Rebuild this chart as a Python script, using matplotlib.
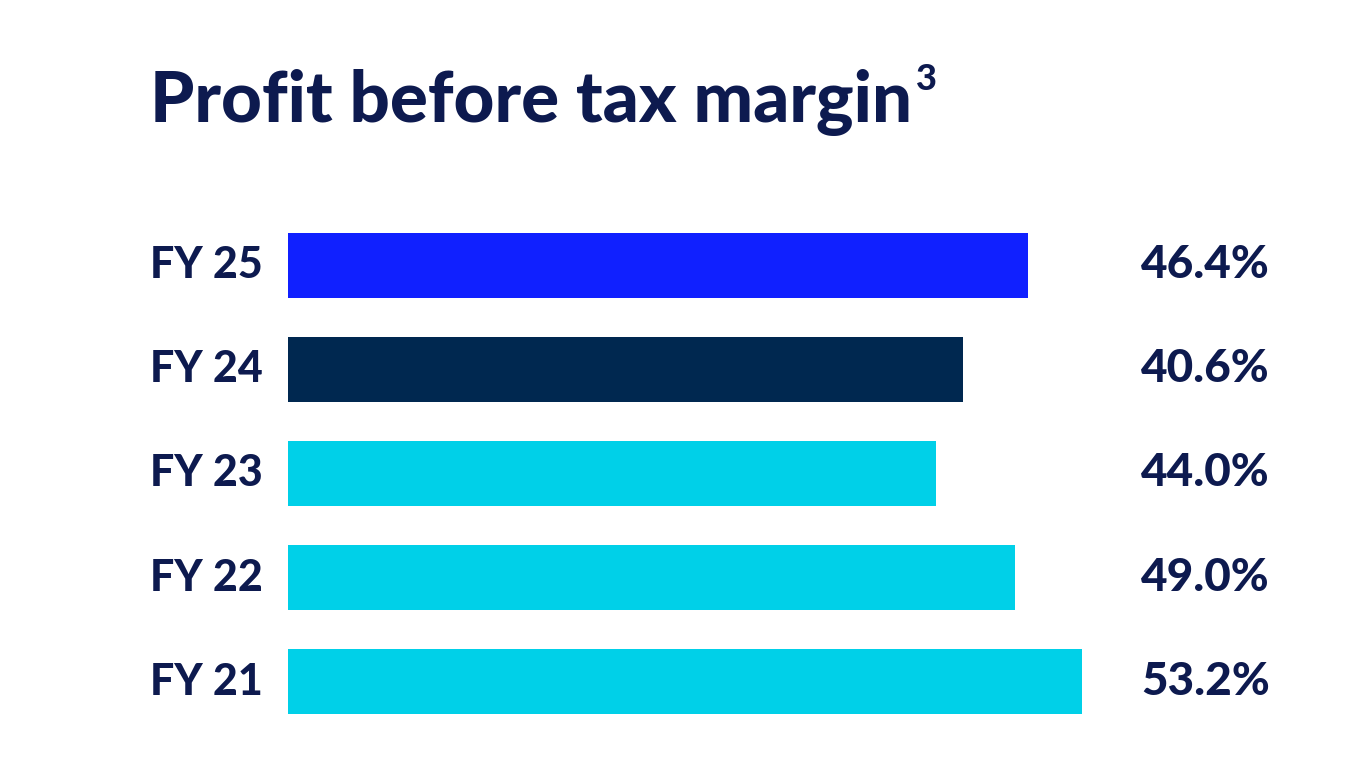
import matplotlib.pyplot as plt

categories = ["FY 25", "FY 24", "FY 23", "FY 22", "FY 21"]
value_labels = ["46.4%", "40.6%", "44.0%", "49.0%", "53.2%"]
# bar lengths as drawn in the source (not proportional to the labels)
bar_lengths = [49.6, 45.2, 43.4, 48.7, 53.2]
colors = ["#1020ff", "#002850", "#00d0e8", "#00d0e8", "#00d0e8"]

navy = "#0d1a4f"
font = "Lato"
weight = "black"

fig = plt.figure(figsize=(13.67, 7.8), dpi=100)
ax = fig.add_axes([288 / 1367, 1 - 717 / 780, 794 / 1367, 487 / 780])

pos = list(range(len(categories)))
ax.barh(pos, bar_lengths, height=0.625, color=colors)
ax.set_xlim(0, 53.2)
ax.set_ylim(4.346, -0.337)
ax.axis("off")

for i, (cat, lab) in enumerate(zip(categories, value_labels)):
    y = 1 - (265 + i * 104.25) / 780
    fig.text(263 / 1367, y, cat, ha="right", va="center", fontsize=31,
             fontweight=weight, color=navy, family=font)
    fig.text(1270 / 1367, y, lab, ha="right", va="center", fontsize=33,
             fontweight=weight, color=navy, family=font)

title = fig.text(150 / 1367, 1 - 102 / 780, "Profit before tax margin", fontsize=51,
                 fontweight=weight, color=navy, family=font, va="center")
fig.canvas.draw()
bb = title.get_window_extent()
fig.text((bb.x1 + 4) / 1367, 1 - 80 / 780, "3", fontsize=26, fontweight=weight,
         color=navy, family=font, va="center")

fig.savefig("out.png", dpi=100, facecolor="white")
